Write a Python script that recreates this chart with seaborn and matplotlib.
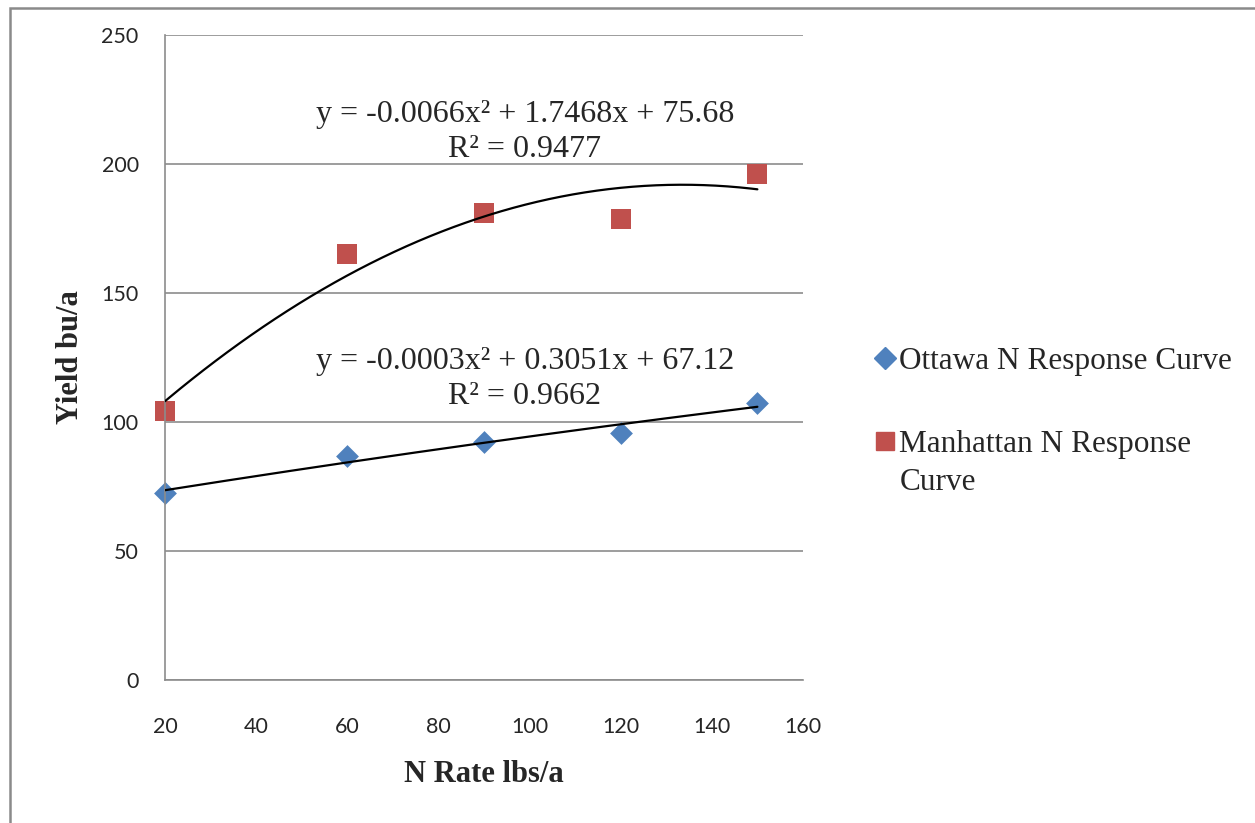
import numpy as np
import pandas as pd
import matplotlib
matplotlib.use("Agg")
import matplotlib.pyplot as plt
from matplotlib.patches import Rectangle
from matplotlib.lines import Line2D
import seaborn as sns

# values
n_rate = [20, 60, 90, 120, 150]
ottawa_yield = [72.5, 86.8, 92.1, 95.9, 107.5]
manhattan_yield = [104.4, 165.1, 181.1, 178.7, 196.1]
x_ticks = [20, 40, 60, 80, 100, 120, 140, 160]
y_ticks = [0, 50, 100, 150, 200, 250]
eq_manhattan = ["y = -0.0066x² + 1.7468x + 75.68", "R² = 0.9477"]
eq_ottawa = ["y = -0.0003x² + 0.3051x + 67.12", "R² = 0.9662"]

blue = "#4F81BD"
red = "#C0504D"
grid_gray = "#8C8C8C"

sns.set_style("white")
plt.rcParams["font.family"] = ["Lato", "DejaVu Sans"]
serif = ["Liberation Serif", "DejaVu Serif"]

df = pd.DataFrame({"rate": n_rate, "ottawa": ottawa_yield, "manhattan": manhattan_yield})

# quadratic trendlines, same as excel's polynomial order 2
xs = np.linspace(min(n_rate), max(n_rate), 200)
fit_o = np.polyval(np.polyfit(n_rate, ottawa_yield, 2), xs)
fit_m = np.polyval(np.polyfit(n_rate, manhattan_yield, 2), xs)
trend = pd.DataFrame({"x": xs, "o": fit_o, "m": fit_m})

fig = plt.figure(figsize=(12.55, 8.23), dpi=100)
ax = fig.add_axes([0.1315, 0.1738, 0.5083, 0.7837])

# outer chart frame
fig.patches.append(Rectangle((0.008, -0.2), 1.2, 1.19, transform=fig.transFigure,
                             fill=False, edgecolor="#8A8A8A", linewidth=1.8))

sns.scatterplot(data=df, x="rate", y="manhattan", marker="s", s=200, color=red,
                edgecolor=red, linewidth=0, ax=ax, zorder=2, clip_on=False)
sns.scatterplot(data=df, x="rate", y="ottawa", marker="D", s=135, color=blue,
                edgecolor=blue, linewidth=0, ax=ax, zorder=2, clip_on=False)
sns.lineplot(data=trend, x="x", y="m", color="black", linewidth=1.6, ax=ax, zorder=3)
sns.lineplot(data=trend, x="x", y="o", color="black", linewidth=1.6, ax=ax, zorder=3)

ax.set_xlim(20, 160)
ax.set_ylim(0, 250)
ax.set_xticks(x_ticks)
ax.set_yticks(y_ticks)
ax.set_xticklabels([str(t) for t in x_ticks], fontsize=15.5)
ax.set_yticklabels([str(t) for t in y_ticks], fontsize=15.5)
ax.tick_params(axis="x", length=0, pad=27)
ax.tick_params(axis="y", length=0, pad=19)
ax.yaxis.grid(True, color=grid_gray, linewidth=1.2)
ax.set_axisbelow(True)
for side in ["top", "right"]:
    ax.spines[side].set_visible(False)
for side in ["left", "bottom"]:
    ax.spines[side].set_color(grid_gray)
    ax.spines[side].set_linewidth(1.2)

ax.set_xlabel("N Rate lbs/a", fontsize=22, fontweight="bold", family=serif, labelpad=16)
ax.set_ylabel("Yield bu/a", fontsize=22, fontweight="bold", family=serif, labelpad=12)

ax.text(99, 219, eq_manhattan[0], ha="center", va="center", fontsize=23, family=serif)
ax.text(99, 205.5, eq_manhattan[1], ha="center", va="center", fontsize=23, family=serif)
ax.text(99, 123.3, eq_ottawa[0], ha="center", va="center", fontsize=23, family=serif)
ax.text(99, 109.7, eq_ottawa[1], ha="center", va="center", fontsize=23, family=serif)

handles = [
    Line2D([], [], marker="D", linestyle="none", color=blue, markersize=11),
    Line2D([], [], marker="s", linestyle="none", color=red, markersize=13),
]
leg = fig.legend(handles, ["Ottawa N Response Curve", "Manhattan N Response\nCurve"],
                 loc="upper left", bbox_to_anchor=(0.688, 0.594), frameon=False,
                 prop={"family": serif, "size": 22.5}, handlelength=0.6,
                 handletextpad=0.15, labelspacing=1.75, borderaxespad=0)
for t in leg.get_texts():
    t.set_linespacing(1.4)
# put the marker next to the first line of a wrapped label, like excel does
try:
    for col in leg._legend_handle_box.get_children():
        for item in col.get_children():
            item.align = "top"
except AttributeError:
    pass

fig.savefig("out.png", dpi=100)
